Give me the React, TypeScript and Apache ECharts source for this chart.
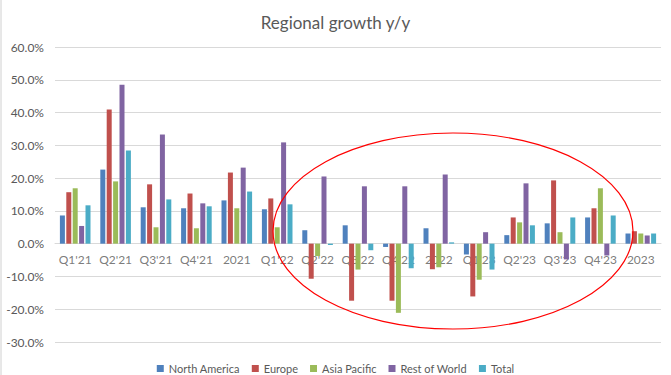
import React, { useEffect, useRef } from "react";
import * as echarts from "echarts";

const categories = ["Q1'21", "Q2'21", "Q3'21", "Q4'21", "2021", "Q1'22", "Q2'22", "Q3'22", "Q4'22", "2022", "Q1'23", "Q2'23", "Q3'23", "Q4'23", "2023"];
const northAmerica = [8.6, 22.6, 11.1, 10.8, 13.2, 10.5, 4.1, 5.6, -1.0, 4.7, -3.3, 2.6, 6.2, 8.0, 3.1];
const europe = [15.7, 40.9, 18.1, 15.3, 21.7, 13.8, -10.7, -17.4, -17.4, -7.8, -16.1, 8.0, 19.3, 10.8, 3.8];
const asiaPacific = [16.9, 19.0, 5.0, 4.7, 10.8, 5.0, -3.8, -7.9, -21.1, -7.2, -11.0, 6.5, 3.5, 16.9, 3.1];
const restOfWorld = [5.4, 48.5, 33.3, 12.3, 23.2, 30.9, 20.5, 17.5, 17.5, 21.1, 3.5, 18.4, -4.8, -3.6, 2.5];
const total = [11.7, 28.4, 13.5, 11.4, 15.9, 12.0, -0.4, -2.0, -7.5, 0.4, -7.9, 5.6, 8.0, 8.6, 3.1];
const seriesNames = ["North America", "Europe", "Asia Pacific", "Rest of World", "Total"];
const colors = ["#4F81BD", "#C0504D", "#9BBB59", "#8064A2", "#4BACC6"];

const FONT = "Lato, 'Liberation Sans', sans-serif";

export default function App() {
  const ref = useRef<HTMLDivElement>(null);
  useEffect(() => {
    document.body.style.margin = "0";
    const chart = echarts.init(ref.current!, null, { renderer: "svg" });
    const data = [northAmerica, europe, asiaPacific, restOfWorld, total];
    chart.setOption({
      animation: false,
      backgroundColor: "#ffffff",
      textStyle: { fontFamily: FONT },
      title: {
        text: "Regional growth y/y",
        left: "center",
        top: 9,
        textStyle: { fontSize: 17, fontWeight: "normal", color: "#595959", fontFamily: FONT },
      },
      legend: {
        top: 358,
        left: "center",
        itemWidth: 7,
        itemHeight: 7,
        itemGap: 12,
        icon: "rect",
        textStyle: { fontSize: 11, color: "#595959", fontFamily: FONT },
        data: seriesNames,
      },
      grid: { left: 55, right: 10, top: 47, bottom: 33, containLabel: false },
      xAxis: {
        type: "category",
        data: categories,
        axisLine: { onZero: true, lineStyle: { color: "#D9D9D9" } },
        axisTick: { show: false },
        axisLabel: { show: false },
      },
      yAxis: {
        type: "value",
        min: -30,
        max: 60,
        interval: 10,
        axisLine: { show: false },
        axisTick: { show: false },
        splitLine: { lineStyle: { color: "#D9D9D9", width: 1 } },
        axisLabel: {
          color: "#595959",
          fontSize: 12,
          margin: 11,
          fontFamily: FONT,
          formatter: (v: number) => v.toFixed(1) + "%",
        },
      },
      series: [
        {
          name: "axisLabels",
          type: "scatter",
          data: categories.map((c) => [c, 0]),
          symbolSize: 0,
          silent: true,
          z: 1,
          label: {
            show: true,
            position: "bottom",
            distance: 10,
            color: "#595959",
            fontSize: 12,
            fontFamily: FONT,
            formatter: (p: any) => p.name || categories[p.dataIndex],
          },
        },
        ...seriesNames.map((name, i) => ({
          name,
          type: "bar",
          data: data[i],
          barWidth: 5,
          barGap: "28%",
          z: 3,
          itemStyle: { color: colors[i] },
        })),
      ],
      graphic: [
        {
          type: "ellipse",
          shape: { cx: 453, cy: 231, rx: 180, ry: 98 },
          style: { fill: "none", stroke: "#FF0000", lineWidth: 1.2 },
          z: 100,
        },
        {
          type: "line",
          shape: { x1: 1, y1: 0, x2: 1, y2: 375 },
          style: { stroke: "#D0D0D0", lineWidth: 1 },
        },
      ],
    });
    return () => chart.dispose();
  }, []);
  return <div ref={ref} style={{ width: 671, height: 375 }} />;
}
